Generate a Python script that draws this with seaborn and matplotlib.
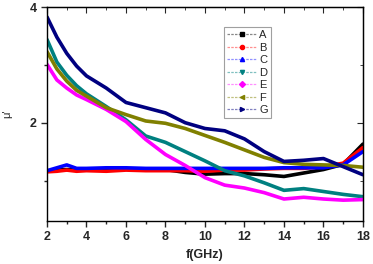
import numpy as np
import pandas as pd
import matplotlib
matplotlib.use("Agg")
import matplotlib.pyplot as plt
import seaborn as sns
from matplotlib.lines import Line2D
from matplotlib.ticker import MultipleLocator

freq = [2, 2.5, 3, 3.5, 4, 5, 6, 7, 8, 9, 10, 11, 12, 13, 14, 15, 16, 17, 18]
A = [1.16, 1.18, 1.19, 1.18, 1.19, 1.20, 1.20, 1.19, 1.19, 1.14, 1.11, 1.12, 1.12, 1.10, 1.07, 1.13, 1.19, 1.28, 1.63]
B = [1.15, 1.16, 1.18, 1.16, 1.17, 1.16, 1.18, 1.17, 1.17, 1.17, 1.16, 1.18, 1.18, 1.20, 1.21, 1.21, 1.24, 1.30, 1.57]
C = [1.17, 1.22, 1.27, 1.21, 1.21, 1.22, 1.22, 1.21, 1.21, 1.21, 1.21, 1.21, 1.21, 1.21, 1.22, 1.22, 1.22, 1.27, 1.50]
D = [3.44, 3.05, 2.82, 2.64, 2.50, 2.28, 2.05, 1.77, 1.66, 1.50, 1.34, 1.17, 1.08, 0.96, 0.83, 0.86, 0.81, 0.76, 0.72]
E = [3.01, 2.74, 2.60, 2.48, 2.40, 2.23, 2.02, 1.71, 1.45, 1.26, 1.05, 0.92, 0.87, 0.79, 0.68, 0.71, 0.68, 0.66, 0.67]
F = [3.23, 2.93, 2.72, 2.56, 2.46, 2.26, 2.14, 2.03, 1.99, 1.90, 1.78, 1.66, 1.53, 1.40, 1.31, 1.28, 1.27, 1.26, 1.23]
G = [3.83, 3.48, 3.20, 2.98, 2.81, 2.60, 2.35, 2.26, 2.17, 2.00, 1.90, 1.86, 1.72, 1.50, 1.33, 1.35, 1.38, 1.24, 1.10]
names = ["A", "B", "C", "D", "E", "F", "G"]
series = [A, B, C, D, E, F, G]
colors = ["#000000", "#ff0000", "#0000ff", "#008080", "#ff00ff", "#808000", "#000080"]
light = ["#888888", "#ff9090", "#9090ff", "#80c0c0", "#ff90ff", "#c0c080", "#8080c0"]
markers = ["s", "o", "^", "v", "D", "<", ">"]

rows = []
for n, s in zip(names, series):
    for f, v in zip(freq, s):
        rows.append({"f": f, "mu": v, "sample": n})
df = pd.DataFrame(rows)

sns.set_style("ticks")
plt.rcParams['font.family'] = ['Liberation Sans', 'DejaVu Sans']

fig = plt.figure(figsize=(3.73, 2.64), dpi=100)
ax = fig.add_axes([0.126, 0.163, 0.847, 0.81])
sns.lineplot(data=df, x="f", y="mu", hue="sample", palette=dict(zip(names, colors)),
             linewidth=2.6, legend=False, ax=ax)
ax.set_xlim(2, 18)
ax.set_ylim(0.3, 4.0)
ax.xaxis.set_major_locator(MultipleLocator(2))
ax.xaxis.set_minor_locator(MultipleLocator(1))
ax.yaxis.set_major_locator(MultipleLocator(2))
ax.yaxis.set_minor_locator(MultipleLocator(1))
ax.tick_params(which="both", direction="out", width=1, labelsize=9)
ax.tick_params(which="major", length=4)
ax.tick_params(which="minor", length=2.5)
for lab in ax.get_xticklabels() + ax.get_yticklabels():
    lab.set_fontweight("bold")
for sp in ax.spines.values():
    sp.set_visible(True)
    sp.set_linewidth(1)
    sp.set_color("black")

top = ax.secondary_xaxis("top")
top.xaxis.set_major_locator(MultipleLocator(2))
top.xaxis.set_minor_locator(MultipleLocator(1))
top.tick_params(which="both", direction="in", labeltop=False)
top.tick_params(which="major", length=4)
top.tick_params(which="minor", length=2.5)
right = ax.secondary_yaxis("right")
right.yaxis.set_major_locator(MultipleLocator(2))
right.yaxis.set_minor_locator(MultipleLocator(1))
right.tick_params(which="both", direction="in", labelright=False)
right.tick_params(which="major", length=4)
right.tick_params(which="minor", length=2.5)

ax.set_xlabel("f(GHz)", fontsize=9, fontweight="bold", labelpad=4)
ax.set_ylabel("\u03bc'", fontsize=8)
ax.yaxis.set_label_coords(-0.11, 0.5)

handles = [Line2D([0], [0], color=lc, ls=(0, (2, 1)), lw=0.9, marker=m, markersize=3,
                  markerfacecolor=c, markeredgecolor=c)
           for c, lc, m in zip(colors, light, markers)]
leg = ax.legend(handles, names, loc="upper left", bbox_to_anchor=(0.56, 0.907),
                fontsize=8, frameon=True, fancybox=False, handlelength=2.6,
                handletextpad=0.3, labelspacing=0.22, borderpad=0.3, borderaxespad=0)
leg.get_frame().set_edgecolor("#888888")
leg.get_frame().set_linewidth(0.8)

fig.savefig("out.png", dpi=100)
